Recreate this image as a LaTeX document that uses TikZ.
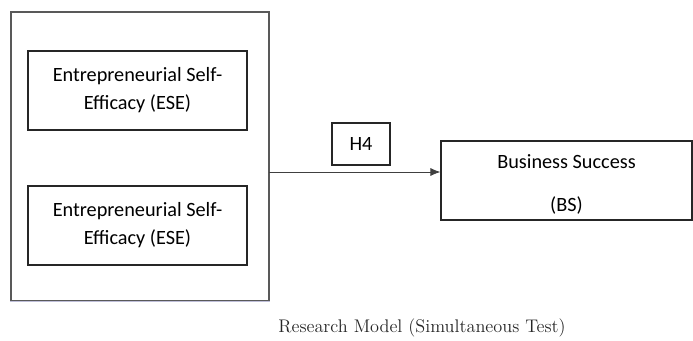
\documentclass[tikz,border=0pt]{standalone}
\usepackage{fontspec}
\setsansfont{Carlito}
\usetikzlibrary{positioning}
\usetikzlibrary{arrows.meta}

\begin{document}
\begin{tikzpicture}[->, >={Latex[length=7.5pt,width=6pt]}, x=0.75pt, y=0.75pt, font=\sffamily\fontsize{15.2}{21}\selectfont]
		\tikzstyle{block}=[draw=black!85, line width=0.8pt, rectangle, fill=none, inner sep=0pt, align=center, minimum width=164.25pt, minimum height=59.25pt]
		\tikzstyle{frame}=[draw=black!65, line width=0.8pt, rectangle, fill=none, inner sep=0pt, minimum width=193.5pt, minimum height=216.75pt]
		\useasboundingbox (0,0) rectangle (693,-340);
		
		\node[frame] (group) at (140,-156.5) {};
		\node[block] (ese1) at (137.5,-90.5) {Entrepreneurial Self-\\Efficacy (ESE)};
		\node[block] (ese2) at (137.5,-225.5) {Entrepreneurial Self-\\Efficacy (ESE)};
		\node[block, minimum width=188.25pt] (bs) at (566.5,-180.5) {};
		\node[align=center] (bstext) at ([yshift=-3pt]bs.center) {Business Success\\[11pt](BS)};
		\node[block, minimum width=43.5pt, minimum height=31.5pt] (h4) at (361,-144) {H4};
		\coordinate (tail) at (269,-172);
		
		\path[-, draw=blue!40!black!25, line width=0.8pt] (group.south west) edge (group.south east);
		\path (tail) edge[draw=black!75, line width=0.6pt] (tail -| bs.west);
		
		\node[font=\rmfamily\fontsize{13.7}{16}\selectfont, text=black!85] (caption) at (422,-328) {Research Model (Simultaneous Test)};
		\end{tikzpicture}
\end{document}
